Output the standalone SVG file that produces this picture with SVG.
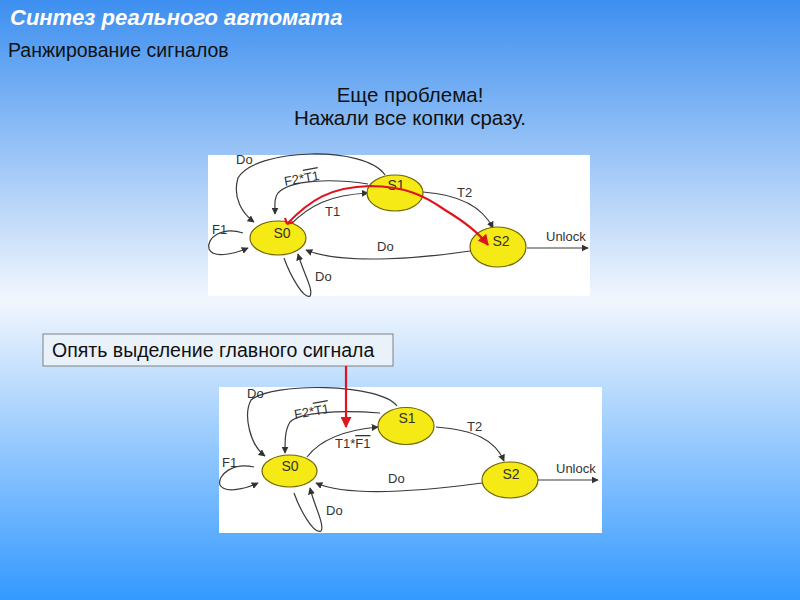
<svg xmlns="http://www.w3.org/2000/svg" width="800" height="600" viewBox="0 0 800 600">
<defs>
<linearGradient id="bg" x1="0" y1="0" x2="0" y2="1">
<stop offset="0" stop-color="#3d8ff0"/>
<stop offset="0.5" stop-color="#f2f7fd"/>
<stop offset="1" stop-color="#3399ff"/>
</linearGradient>
<marker id="ah" viewBox="0 0 10 10" refX="9" refY="5" markerWidth="7" markerHeight="7" markerUnits="userSpaceOnUse" orient="auto">
<path d="M0,0 L10,5 L0,10 z" fill="#333"/>
</marker>
<marker id="ahr" viewBox="0 0 10 10" refX="9" refY="5" markerWidth="11" markerHeight="11" markerUnits="userSpaceOnUse" orient="auto">
<path d="M0,0 L10,5 L0,10 z" fill="#e0141e"/>
</marker>
<style>
.t{font-family:"Liberation Sans",Arial,sans-serif;}
.lbl{font-family:"Liberation Sans",Arial,sans-serif;font-size:13px;fill:#333;}
.st{font-family:"Liberation Sans",Arial,sans-serif;font-size:14px;fill:#333;text-anchor:middle;}
.node{fill:#f5e916;stroke:#6e6600;stroke-width:1.2;}
.c{fill:none;stroke:#3a3a3a;stroke-width:1.2;marker-end:url(#ah);}
.red{fill:none;stroke:#e0141e;stroke-width:2.2;}
.ov{text-decoration:overline;}
</style>
</defs>
<rect width="800" height="600" fill="url(#bg)"/>
<text class="t" x="10" y="25" font-size="22" font-weight="bold" font-style="italic" fill="#fff">Синтез реального автомата</text>
<text class="t" x="8" y="57" font-size="19.5" fill="#111">Ранжирование сигналов</text>
<text class="t" x="410" y="102" font-size="20.5" fill="#111" text-anchor="middle">Еще проблема!</text>
<text class="t" x="410" y="125" font-size="20.5" fill="#111" text-anchor="middle">Нажали все копки сразу.</text>

<!-- Diagram 1 -->
<g id="diagram1">
<rect x="208" y="155" width="382" height="141" fill="#fff"/>
<g id="connectors1">
<path class="c" d="M385,175 C365,145 255,148 238,178 C232,198 243,214 254,222"/>
<path class="c" d="M368,184 C330,178 290,180 278,193 C274,198 275,205 275,214"/>
<path class="c" d="M290,225 C310,205 330,195 368,193"/>
<path class="c" d="M423,192 C465,195 484,210 493,228"/>
<path class="c" d="M243,233 C222,226 206,238 209,249 C213,258 232,255 248,248"/>
<path class="c" d="M284,258 C290,275 304,300 310,296 C314,290 303,272 298,254"/>
<path class="c" d="M470,251 C430,257 345,266 306,250"/>
<path class="c" d="M527,248 L588,248"/>
</g>
<g id="d1-S0"><ellipse class="node" cx="278" cy="238" rx="28" ry="17"/><text class="st" x="282" y="238">S0</text></g>
<g id="d1-S1"><ellipse class="node" cx="395" cy="193" rx="28" ry="18"/><text class="st" x="396" y="190">S1</text></g>
<g id="d1-S2"><ellipse class="node" cx="498" cy="247" rx="28" ry="20"/><text class="st" x="501" y="246">S2</text></g>
<g id="red1">
<path class="red" marker-end="url(#ahr)" d="M287,224 C310,200 330,187 370,186 C405,186 425,196 445,210 C465,222 478,232 488,245"/>
<path class="red" d="M287,224 L285,218 M287,224 L293,222"/>
</g>
<text class="lbl" x="236" y="164">Do</text>
<text class="lbl" x="285" y="186" transform="rotate(-10 285 186)">F2*<tspan class="ov">T1</tspan></text>
<text class="lbl" x="325" y="216">T1</text>
<text class="lbl" x="457" y="197">T2</text>
<text class="lbl" x="212" y="234">F1</text>
<text class="lbl" x="377" y="251">Do</text>
<text class="lbl" x="546" y="241">Unlock</text>
<text class="lbl" x="315" y="281">Do</text>
</g>

<!-- Box -->
<g id="note">
<rect x="43" y="334" width="350" height="32" fill="#e9f1fb" stroke="#808080" stroke-width="1"/>
<text class="t" x="52" y="357" font-size="19.5" fill="#111">Опять выделение главного сигнала</text>
</g>

<!-- Diagram 2 -->
<g id="diagram2">
<rect x="219" y="387" width="383" height="146" fill="#fff"/>
<g id="connectors2">
<path class="c" d="M397,406 C380,383 272,382 251,400 C243,415 250,445 265,456"/>
<path class="c" d="M380,413 C340,410 300,412 290,422 C285,430 285,440 285,453"/>
<path class="c" d="M307,457 C320,440 345,430 378,427"/>
<path class="c" d="M436,427 C475,430 495,440 504,461"/>
<path class="c" d="M254,467 C233,462 217,475 220,485 C224,493 243,490 258,483"/>
<path class="c" d="M294,493 C300,510 314,535 321,531 C325,525 314,505 310,488"/>
<path class="c" d="M482,483 C430,490 350,498 316,483"/>
<path class="c" d="M538,480 L598,480"/>
</g>
<g id="d2-S0"><ellipse class="node" cx="289.5" cy="471" rx="27.5" ry="16"/><text class="st" x="290" y="471">S0</text></g>
<g id="d2-S1"><ellipse class="node" cx="406" cy="426" rx="28" ry="18.5"/><text class="st" x="407" y="423">S1</text></g>
<g id="d2-S2"><ellipse class="node" cx="510" cy="480" rx="28" ry="18"/><text class="st" x="511" y="479">S2</text></g>
<text class="lbl" x="247" y="398">Do</text>
<text class="lbl" x="295" y="419" transform="rotate(-10 295 419)">F2*<tspan class="ov">T1</tspan></text>
<text class="lbl" x="335" y="448">T1*<tspan class="ov">F1</tspan></text>
<text class="lbl" x="467" y="431">T2</text>
<text class="lbl" x="222" y="467">F1</text>
<text class="lbl" x="388" y="483">Do</text>
<text class="lbl" x="556" y="473">Unlock</text>
<text class="lbl" x="326" y="515">Do</text>
</g>
<path id="red2" class="red" stroke-width="1.5" marker-end="url(#ahr)" d="M346,366 L346,427"/>
</svg>
